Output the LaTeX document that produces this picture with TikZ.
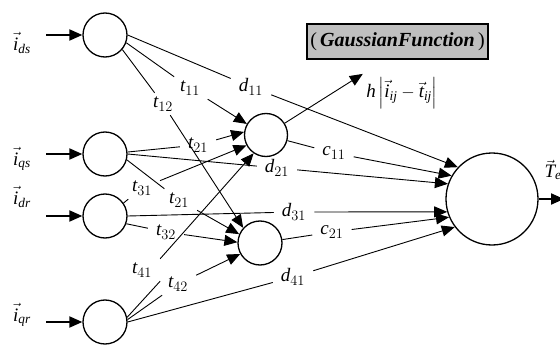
\documentclass[tikz,border=0pt]{standalone}
\usepackage{amsmath}
\usepackage{fontspec}
\setmainfont{Liberation Serif}
\usetikzlibrary{arrows.meta, positioning}

\begin{document}
\begin{tikzpicture}[x=1pt, y=-1pt, >={Triangle[length=13pt, width=11pt]},
  font=\fontsize{19pt}{22pt}\selectfont,
  unit/.style={circle, draw, line width=1.3pt, inner sep=0pt, minimum size=44pt},
  lab/.style={inner xsep=8pt, inner ysep=4pt},
  conn/.style={line width=0.9pt},
  feed/.style={->, line width=2pt}]
\useasboundingbox (0,0) rectangle (560,345);
% input layer
\node[unit] (ids) at (105,35) {};
\node[unit] (iqs) at (105,154) {};
\node[unit] (idr) at (105,216) {};
\node[unit] (iqr) at (105,322) {};
% hidden layer and output
\node[unit, minimum size=43pt] (h1) at (266,135) {};
\node[unit] (h2) at (260,243) {};
\node[unit, minimum size=92pt] (out) at (492,199) {};

% input currents
\node (lds) at (22,43) {$\vec{\mathit{i}}_{\mathit{ds}}$};
\node (lqs) at (22,159) {$\vec{\mathit{i}}_{\mathit{qs}}$};
\node (ldr) at (22,197) {$\vec{\mathit{i}}_{\mathit{dr}}$};
\node (lqr) at (22,315) {$\vec{\mathit{i}}_{\mathit{qr}}$};
\coordinate[left=36pt of ids] (sds);
\coordinate[left=36pt of iqs] (sqs);
\coordinate[left=36pt of idr] (sdr);
\coordinate[left=36pt of iqr] (sqr);
\draw[feed] (sds) -- (ids);
\draw[feed] (sqs) -- (iqs);
\draw[feed] (sdr) -- (idr);
\draw[feed] (sqr) -- (iqr);

% weights
\node[lab] (t11) at (190,88) {$\mathit{t}_{11}$};
\node[lab] (d11) at (251,87) {$\mathit{d}_{11}$};
\node[lab] (t12) at (163,104) {$\mathit{t}_{12}$};
\node[lab] (t21a) at (198,145) {$\mathit{t}_{21}$};
\node[lab] (d21) at (277,168) {$\mathit{d}_{21}$};
\node[lab] (t31) at (142,188) {$\mathit{t}_{31}$};
\node[lab] (t21b) at (179,200) {$\mathit{t}_{21}$};
\node[lab] (d31) at (294,212) {$\mathit{d}_{31}$};
\node[lab] (t32) at (166,232) {$\mathit{t}_{32}$};
\node[lab] (t41) at (142,270) {$\mathit{t}_{41}$};
\node[lab] (t42) at (178,284) {$\mathit{t}_{42}$};
\node[lab] (d41) at (293,277) {$\mathit{d}_{41}$};
\node[lab] (c11) at (334,153) {$\mathit{c}_{11}$};
\node[lab] (c21) at (332,232) {$\mathit{c}_{21}$};

% gaussian
\node[draw, fill=gray!50, line width=1.4pt, minimum width=181pt, minimum height=35pt,
  font=\fontsize{20pt}{23pt}\selectfont] (gauss) at (397.5,41.5) {(\,\textbf{\textit{GaussianFunction}}\,)};
\node (hfun) at (402,93) {$\mathit{h}\left|\vec{\mathit{i}}_{\mathit{ij}}-\vec{\mathit{t}}_{\mathit{ij}}\right|$};
\node (te) at (553,170) {$\vec{\mathit{T}}_{\mathit{e}}$};
\coordinate (oend) at (564,199);

% connections
\draw[conn] (ids.-20) -- (t11); \draw[conn, ->] (t11) -- (h1.150);
\draw[conn] (ids.-40) -- (t12); \draw[conn, ->] (t12) -- (h2.138);
\draw[conn] (ids.east) -- (d11); \draw[conn, ->] (d11) -- (out.137);
\draw[conn] (iqs.5) -- (t21a); \draw[conn, ->] (t21a) -- (h1.172);
\draw[conn] (iqs.east) -- (d21); \draw[conn, ->] (d21) -- (out.161);
\draw[conn] (iqs.-15) -- (t21b); \draw[conn, ->] (t21b) -- (h2.157);
\draw[conn] (idr.35) -- (t31); \draw[conn, ->] (t31) -- (h1.208);
\draw[conn] (idr.east) -- (d31); \draw[conn, ->] (d31) -- (out.196);
\draw[conn] (idr.-20) -- (t32); \draw[conn, ->] (t32) -- (h2.178);
\draw[conn] (iqr.12) -- (t41.south east); \draw[conn, ->] (t41.north east) -- (h1.236);
\draw[conn] (iqr.6) -- (t42); \draw[conn, ->] (t42) -- (h2.209);
\draw[conn] (iqr.east) -- (d41); \draw[conn, ->] (d41) -- (out.217);
\draw[conn] (h1) -- (c11); \draw[conn, ->] (c11) -- (out.150);
\draw[conn] (h2) -- (c21); \draw[conn, ->] (c21) -- (out.203);
\draw[conn, ->] (h1) -- (hfun.north west);
\draw[feed] (out) -- (oend);
\end{tikzpicture}
\end{document}
